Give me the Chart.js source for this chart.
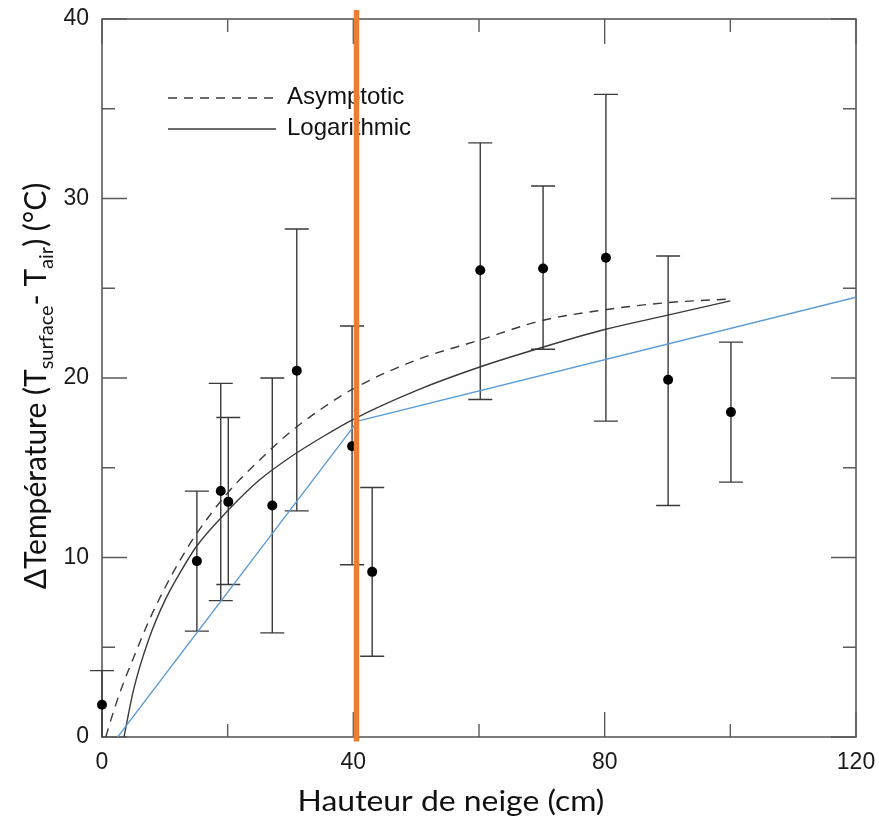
<!DOCTYPE html>
<html>
<head>
<meta charset="utf-8">
<script src="https://cdn.jsdelivr.net/npm/chart.js@4.4.1/dist/chart.umd.min.js"></script>
<style>
  html, body { margin: 0; padding: 0; background: #fff; }
  canvas { display: block; }
</style>
</head>
<body>
<canvas id="chart" width="879" height="821" style="width:879px;height:821px"></canvas>
<script>
// ---------------------------------------------------------------------------
// Mesures : hauteur de neige (cm) / ΔT moyen et barres d'erreur (°C)
// ---------------------------------------------------------------------------
const snowX   = [0,   15.1, 18.9, 20.1, 27.1, 31.0, 39.8, 43.0, 60.2, 70.2, 80.2, 90.1, 100.1];
const deltaT  = [1.8, 9.8,  13.7, 13.1, 12.9, 20.4, 16.2, 9.2,  26.0, 26.1, 26.7, 19.9, 18.1];
const errLow  = [0,   5.9,  7.6,  8.5,  5.8,  12.6, 9.6,  4.5,  18.8, 21.6, 17.6, 12.9, 14.2];
const errHigh = [3.7, 13.7, 19.7, 17.8, 20.0, 28.3, 22.9, 13.9, 33.1, 30.7, 35.8, 26.8, 22.0];

// courbe "Asymptotic" (tirets)
const asymX = [0.6, 2,   3.4, 5,   7.5, 10,  12.5, 15,   20,   25,   30,   35,   40,   50,   60,   70,   80,   90,   100];
const asymY = [0,   1.6, 3.0, 4.4, 6.5, 8.3, 9.9,  11.3, 13.6, 15.4, 17.0, 18.3, 19.4, 21.0, 22.1, 23.2, 23.8, 24.2, 24.4];

// courbe "Logarithmic" (trait plein)
const logX = [3.5, 5,   7.5, 10,  12.5, 15,   20,   25,   30,   35,   40,   50,   60,   70,   80,   90,   100];
const logY = [0,   2.6, 5.5, 7.6, 9.2,  10.6, 12.6, 14.3, 15.6, 16.7, 17.7, 19.3, 20.6, 21.7, 22.7, 23.5, 24.3];

// droite bleue (deux segments)
const blueX = [2.5, 40.7, 120];
const blueY = [0,   17.6, 24.5];

// trait vertical orange
const orangeX = [40.5, 40.5];
const orangeY = [-0.25, 40.5];

// axes
const xTicks = [0, 40, 80, 120];
const xMinor = [20, 60, 100];
const yTicks = [0, 10, 20, 30, 40];
const yMinor = [5, 15, 25, 35];

const legendLabels = ["Asymptotic", "Logarithmic"];

function pts(xs, ys) {
    return xs.map((v, i) => ({ x: v, y: ys[i] }));
}

const INK = "#3a3a3a";
const AXIS = "#5a5a5a";

// ---------------------------------------------------------------------------
// Cadre, graduations internes, barres d'erreur, légende
// ---------------------------------------------------------------------------
const framePlugin = {
    id: "framePlugin",
    beforeDatasetsDraw(chart) {
        const { ctx, chartArea: a, scales } = chart;
        const sx = scales.x, sy = scales.y;
        ctx.save();

        // cadre
        ctx.strokeStyle = AXIS;
        ctx.lineWidth = 1.6;
        ctx.strokeRect(a.left, a.top, a.right - a.left, a.bottom - a.top);

        // graduations (vers l'intérieur, sur les 4 côtés)
        ctx.lineWidth = 1.4;
        ctx.beginPath();
        const tickX = (v, len) => {
            const p = sx.getPixelForValue(v);
            ctx.moveTo(p, a.bottom); ctx.lineTo(p, a.bottom - len);
            ctx.moveTo(p, a.top);    ctx.lineTo(p, a.top + len);
        };
        const tickY = (v, len) => {
            const p = sy.getPixelForValue(v);
            ctx.moveTo(a.left, p);  ctx.lineTo(a.left + len, p);
            ctx.moveTo(a.right, p); ctx.lineTo(a.right - len, p);
        };
        xTicks.forEach(v => tickX(v, 25));
        xMinor.forEach(v => tickX(v, 13));
        yTicks.forEach(v => tickY(v, 25));
        yMinor.forEach(v => tickY(v, 13));
        ctx.stroke();

        // barres d'erreur
        ctx.strokeStyle = INK;
        ctx.lineWidth = 1.4;
        ctx.beginPath();
        snowX.forEach((v, i) => {
            const px = sx.getPixelForValue(v);
            const top = sy.getPixelForValue(errHigh[i]);
            const bot = sy.getPixelForValue(errLow[i]);
            ctx.moveTo(px, top); ctx.lineTo(px, bot);
            ctx.moveTo(px - 12, top); ctx.lineTo(px + 12, top);
            if (errLow[i] > 0) {
                ctx.moveTo(px - 12, bot); ctx.lineTo(px + 12, bot);
            }
        });
        ctx.stroke();

        // légende
        ctx.lineWidth = 1.4;
        ctx.strokeStyle = INK;
        ctx.setLineDash([9, 7]);
        ctx.beginPath(); ctx.moveTo(168, 98); ctx.lineTo(276, 98); ctx.stroke();
        ctx.setLineDash([]);
        ctx.beginPath(); ctx.moveTo(168, 129); ctx.lineTo(276, 129); ctx.stroke();
        ctx.fillStyle = "#111";
        ctx.font = "24px 'Liberation Sans', Arial, sans-serif";
        ctx.textBaseline = "middle";
        ctx.fillText(legendLabels[0], 287, 97);
        ctx.fillText(legendLabels[1], 287, 128);

        ctx.restore();
    },
    afterDraw(chart) {
        const { ctx } = chart;
        ctx.save();
        ctx.fillStyle = "#111";
        const fam = "Lato, 'Open Sans', sans-serif";

        // titre axe X (légèrement élargi comme l'original)
        ctx.save();
        ctx.font = "29px " + fam;
        ctx.textAlign = "center";
        ctx.textBaseline = "middle";
        ctx.translate(451, 802);
        ctx.scale(1.1, 1);
        ctx.fillText("Hauteur de neige (cm)", 0, 0);
        ctx.restore();

        // titre axe Y avec indices
        const big = "30px " + fam, small = "20px " + fam;
        const parts = [
            ["\u0394Température (T", big, 0],
            ["surface", small, 7],
            ["- T", big, 0],
            ["air", small, 7],
            [") (°C)", big, 0]
        ];
        let total = 0;
        parts.forEach(p => { ctx.font = p[1]; total += ctx.measureText(p[0]).width; });
        ctx.translate(35, 386);
        ctx.rotate(-Math.PI / 2);
        ctx.textAlign = "left";
        ctx.textBaseline = "alphabetic";
        let cx = -total / 2;
        parts.forEach(p => {
            ctx.font = p[1];
            ctx.fillText(p[0], cx, 11 + p[2]);
            cx += ctx.measureText(p[0]).width;
        });
        ctx.restore();
    }
};

// ---------------------------------------------------------------------------
// Graphique
// ---------------------------------------------------------------------------
const tickFont = { family: "'Liberation Sans', Arial, sans-serif", size: 23 };

new Chart(document.getElementById("chart"), {
    type: "scatter",
    data: {
        datasets: [
            {
                label: "orange",
                data: pts(orangeX, orangeY),
                showLine: true,
                borderColor: "#ED7D31",
                borderWidth: 5.5,
                pointRadius: 0,
                clip: false
            },
            {
                label: "mesures",
                data: pts(snowX, deltaT),
                showLine: false,
                pointRadius: 5,
                pointStyle: "circle",
                backgroundColor: "#000",
                borderColor: "#000",
                borderWidth: 0,
                clip: false
            },
            {
                label: "bleu",
                data: pts(blueX, blueY),
                showLine: true,
                borderColor: "#5B9BD5",
                borderWidth: 1.3,
                pointRadius: 0
            },
            {
                label: legendLabels[1],
                data: pts(logX, logY),
                showLine: true,
                borderColor: INK,
                borderWidth: 1.4,
                pointRadius: 0,
                cubicInterpolationMode: "monotone"
            },
            {
                label: legendLabels[0],
                data: pts(asymX, asymY),
                showLine: true,
                borderColor: INK,
                borderWidth: 1.4,
                borderDash: [9, 7],
                pointRadius: 0,
                cubicInterpolationMode: "monotone"
            }
        ]
    },
    options: {
        responsive: false,
        animation: false,
        devicePixelRatio: 1,
        layout: { padding: { left: 0, top: 19, right: 23, bottom: 0 } },
        plugins: {
            legend: { display: false },
            tooltip: { enabled: false }
        },
        scales: {
            x: {
                type: "linear",
                min: 0, max: 120,
                grid: { display: false, drawTicks: false },
                border: { display: false },
                ticks: {
                    stepSize: 40,
                    padding: 12,
                    color: "#1a1a1a",
                    font: tickFont,
                    maxRotation: 0
                },
                afterFit(axis) {
                    axis.height = 84;
                    axis.paddingLeft = 0;
                    axis.paddingRight = 0;
                }
            },
            y: {
                type: "linear",
                min: 0, max: 40,
                grid: { display: false, drawTicks: false },
                border: { display: false },
                ticks: {
                    stepSize: 10,
                    padding: 13,
                    color: "#1a1a1a",
                    font: tickFont
                },
                afterFit(axis) {
                    axis.width = 102;
                    axis.paddingTop = 0;
                    axis.paddingBottom = 0;
                }
            }
        }
    },
    plugins: [framePlugin]
});
</script>
</body>
</html>
